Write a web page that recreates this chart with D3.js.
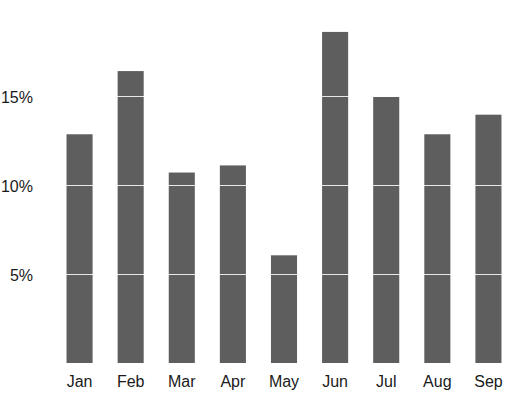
<!DOCTYPE html>
<html>
<head>
<meta charset="utf-8">
<script src="https://cdn.jsdelivr.net/npm/d3@7"></script>
<style>
  html, body { margin: 0; padding: 0; background: #ffffff; }
  svg { display: block; font-family: "Liberation Sans", Arial, sans-serif; }
</style>
</head>
<body>
<svg id="chart" width="528" height="393"></svg>
<script>
const months = ["Jan", "Feb", "Mar", "Apr", "May", "Jun", "Jul", "Aug", "Sep"];
const values = [12.85, 16.4, 10.7, 11.1, 6.05, 18.6, 14.95, 12.85, 13.95];
const yTicks = [5, 10, 15];

const svg = d3.select("#chart");

const x = d3.scaleBand()
  .domain(months)
  .range([54, 514])
  .paddingInner(0.49)
  .paddingOuter(0.245);

const y = d3.scaleLinear()
  .domain([0, 5])
  .range([363, 274]);

// bars
svg.append("g")
  .selectAll("rect")
  .data(months)
  .join("rect")
  .attr("x", d => x(d))
  .attr("width", x.bandwidth())
  .attr("y", (d, i) => y(values[i]))
  .attr("height", (d, i) => y(0) - y(values[i]))
  .attr("fill", "#5e5e5e");

// gridlines on top of bars (white, only visible over bars)
svg.append("g")
  .selectAll("line")
  .data(yTicks)
  .join("line")
  .attr("x1", 40)
  .attr("x2", 528)
  .attr("y1", d => Math.round(y(d)) + 0.5)
  .attr("y2", d => Math.round(y(d)) + 0.5)
  .attr("stroke", "#ffffff")
  .attr("stroke-opacity", 0.85)
  .attr("stroke-width", 1);

// y labels
const yAxis = d3.axisLeft(y)
  .tickValues(yTicks)
  .tickFormat(d => d + "%")
  .tickSize(0)
  .tickPadding(0);

const gy = svg.append("g")
  .attr("transform", "translate(33,1.5)")
  .call(yAxis);
gy.select(".domain").remove();
gy.selectAll("text")
  .attr("font-size", "16px")
  .attr("font-family", "\"Liberation Sans\", Arial, sans-serif")
  .attr("fill", "#1a1a1a");

// x labels
const xAxis = d3.axisBottom(x).tickSize(0).tickPadding(0);
const gx = svg.append("g")
  .attr("transform", "translate(0,376)")
  .call(xAxis);
gx.select(".domain").remove();
gx.selectAll("text")
  .attr("font-size", "16px")
  .attr("font-family", "\"Liberation Sans\", Arial, sans-serif")
  .attr("fill", "#1a1a1a");
</script>
</body>
</html>
